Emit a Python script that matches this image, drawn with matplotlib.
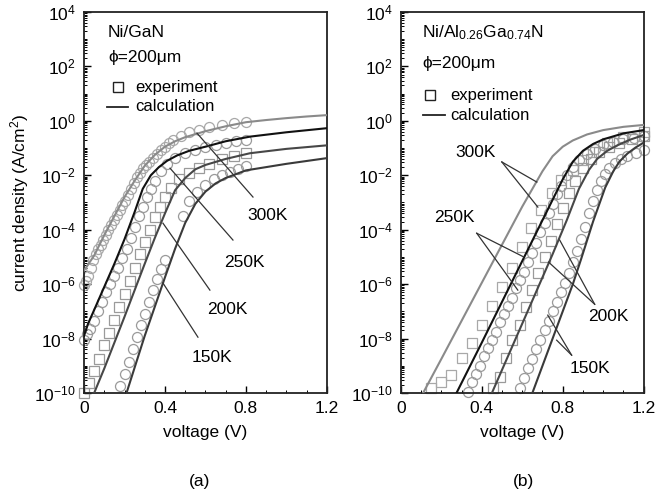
import numpy as np
import matplotlib
matplotlib.use('Agg')
import matplotlib.pyplot as plt
from matplotlib import ticker

plt.rcParams['font.family'] = ['Liberation Sans', 'DejaVu Sans']
plt.rcParams['mathtext.fontset'] = 'custom'
plt.rcParams['mathtext.rm'] = 'Liberation Sans'
plt.rcParams['mathtext.it'] = 'Liberation Sans:italic'

# values are log10 of current density (A/cm^2)
# (a) Ni/GaN - calculation
a_v_300 = [0, 0.05, 0.1, 0.15, 0.2, 0.25, 0.3, 0.35, 0.4, 0.45, 0.5, 0.6, 0.7, 0.8, 0.9, 1.0, 1.1, 1.2]
a_j_300 = [-5.5, -4.95, -4.2, -3.5, -2.8, -2.2, -1.65, -1.25, -0.95, -0.75, -0.6, -0.38, -0.2, -0.05, 0.03, 0.1, 0.16, 0.21]
a_v_250 = [0, 0.02, 0.05, 0.1, 0.15, 0.2, 0.25, 0.29, 0.33, 0.37, 0.41, 0.46, 0.52, 0.6, 0.7, 0.82, 1.0, 1.2]
a_j_250 = [-7.9, -7.45, -6.95, -6.1, -5.25, -4.35, -3.35, -2.5, -2.0, -1.7, -1.47, -1.27, -1.1, -0.95, -0.75, -0.58, -0.42, -0.27]
a_v_200 = [0.05, 0.1, 0.2, 0.3, 0.35, 0.4, 0.45, 0.5, 0.55, 0.6, 0.7, 0.82, 1.0, 1.2]
a_j_200 = [-10, -9.1, -7.2, -5.25, -4.3, -3.4, -2.55, -2.1, -1.78, -1.62, -1.4, -1.19, -1.03, -0.9]
a_v_150 = [0.21, 0.3, 0.4, 0.45, 0.5, 0.55, 0.6, 0.65, 0.7, 0.8, 1.0, 1.2]
a_j_150 = [-10, -7.9, -5.75, -4.7, -3.75, -3.05, -2.6, -2.3, -2.1, -1.82, -1.58, -1.37]

# (a) Ni/GaN - experiment
a_ev_300 = [0, 0.01, 0.02, 0.033, 0.045, 0.058, 0.07, 0.082, 0.094, 0.107, 0.12, 0.135, 0.15, 0.164, 0.178,
            0.19, 0.2, 0.215, 0.23, 0.245, 0.26, 0.275, 0.29, 0.305, 0.32, 0.34, 0.36, 0.38, 0.4, 0.42, 0.44,
            0.48, 0.52, 0.57, 0.62, 0.68, 0.74, 0.8]
a_ej_300 = [-6.05, -5.9, -5.7, -5.4, -5.1, -4.9, -4.7, -4.55, -4.38, -4.2, -4.0, -3.82, -3.65, -3.45, -3.28,
            -3.1, -2.95, -2.72, -2.5, -2.28, -2.07, -1.9, -1.75, -1.62, -1.5, -1.35, -1.2, -1.07, -0.95, -0.82,
            -0.7, -0.55, -0.42, -0.32, -0.24, -0.16, -0.09, -0.04]
a_ev_250 = [0, 0.015, 0.03, 0.05, 0.07, 0.09, 0.11, 0.13, 0.15, 0.17, 0.19, 0.21, 0.23, 0.25, 0.27, 0.29, 0.31,
            0.33, 0.35, 0.38, 0.41, 0.45, 0.5, 0.55, 0.6, 0.65, 0.7, 0.75, 0.8]
a_ej_250 = [-8.05, -7.85, -7.65, -7.35, -7.0, -6.65, -6.3, -6.0, -5.7, -5.4, -5.05, -4.7, -4.3, -3.9, -3.5, -3.15,
            -2.8, -2.5, -2.2, -1.85, -1.58, -1.35, -1.18, -1.06, -0.96, -0.87, -0.8, -0.74, -0.69]
a_ev_200 = [0, 0.025, 0.05, 0.075, 0.1, 0.125, 0.15, 0.175, 0.2, 0.225, 0.25, 0.275, 0.3, 0.325, 0.35, 0.375,
            0.4, 0.43, 0.47, 0.52, 0.57, 0.62, 0.68, 0.74, 0.8]
a_ej_200 = [-10, -9.65, -9.2, -8.75, -8.25, -7.8, -7.3, -6.85, -6.35, -5.9, -5.4, -4.9, -4.45, -4.0, -3.55, -3.15,
            -2.8, -2.45, -2.15, -1.9, -1.72, -1.58, -1.42, -1.3, -1.18]
a_ev_150 = [0.18, 0.2, 0.22, 0.24, 0.26, 0.28, 0.3, 0.32, 0.34, 0.36, 0.38, 0.4, 0.49, 0.52, 0.56, 0.6, 0.64,
            0.68, 0.72, 0.76, 0.8]
a_ej_150 = [-9.75, -9.3, -8.85, -8.4, -7.95, -7.5, -7.1, -6.65, -6.2, -5.8, -5.45, -5.1, -3.5, -2.95, -2.6, -2.35,
            -2.15, -2.0, -1.88, -1.76, -1.66]

# (b) Ni/Al0.26Ga0.74N - calculation
b_v_300 = [0.11, 0.2, 0.3, 0.4, 0.5, 0.55, 0.6, 0.65, 0.7, 0.75, 0.8, 0.85, 0.92, 1.0, 1.1, 1.2]
b_j_300 = [-10, -8.75, -7.35, -5.95, -4.55, -3.85, -3.15, -2.5, -1.85, -1.3, -0.95, -0.72, -0.5, -0.34, -0.22, -0.15]
b_v_250 = [0.275, 0.4, 0.5, 0.6, 0.65, 0.7, 0.75, 0.8, 0.85, 0.9, 0.95, 1.0, 1.1, 1.2]
b_j_250 = [-10, -8.15, -6.65, -5.15, -4.4, -3.65, -2.9, -2.15, -1.5, -1.1, -0.85, -0.68, -0.46, -0.34]
b_v_200 = [0.45, 0.55, 0.65, 0.75, 0.82, 0.88, 0.93, 0.97, 1.02, 1.07, 1.13, 1.2]
b_j_200 = [-10, -8.3, -6.6, -4.9, -3.65, -2.5, -1.8, -1.4, -1.1, -0.9, -0.7, -0.52]
b_v_150 = [0.65, 0.75, 0.85, 0.89, 0.95, 1.01, 1.05, 1.08, 1.12, 1.16, 1.2]
b_j_150 = [-10, -8.0, -6.0, -5.1, -3.7, -2.45, -1.85, -1.5, -1.2, -0.98, -0.8]

# (b) experiment
b_ev_300 = [0.15, 0.2, 0.25, 0.3, 0.35, 0.4, 0.45, 0.5, 0.55, 0.6, 0.645, 0.695, 0.745, 0.79, 0.85, 0.9, 0.95,
            1.02, 1.1, 1.2]
b_ej_300 = [-9.8, -9.6, -9.35, -8.7, -8.15, -7.5, -6.8, -6.1, -5.4, -4.65, -3.95, -3.28, -2.65, -2.18, -1.8,
            -1.44, -1.15, -0.82, -0.6, -0.41]
b_ev_250 = [0.33, 0.35, 0.37, 0.39, 0.41, 0.43, 0.45, 0.47, 0.49, 0.51, 0.53, 0.55, 0.57, 0.59, 0.61, 0.63,
            0.65, 0.67, 0.69, 0.71, 0.73, 0.75, 0.77, 0.79, 0.82, 0.85, 0.88, 0.92, 0.96, 1.0, 1.05, 1.1, 1.15, 1.2]
b_ej_250 = [-9.95, -9.6, -9.3, -9.0, -8.65, -8.35, -8.05, -7.75, -7.4, -7.1, -6.8, -6.5, -6.15, -5.85, -5.55,
            -5.2, -4.85, -4.5, -4.1, -3.75, -3.4, -3.05, -2.7, -2.4, -2.0, -1.7, -1.45, -1.2, -1.02, -0.9, -0.78,
            -0.68, -0.62, -0.56]
b_ev_200 = [0.456, 0.49, 0.52, 0.55, 0.59, 0.62, 0.65, 0.68, 0.71, 0.74, 0.77, 0.8, 0.83, 0.86, 0.9, 0.94, 0.98,
            1.03, 1.08, 1.14, 1.2]
b_ej_200 = [-9.8, -9.4, -8.7, -8.06, -7.5, -6.85, -6.2, -5.6, -5.0, -4.4, -3.8, -3.2, -2.65, -2.2, -1.75, -1.4,
            -1.15, -0.95, -0.8, -0.68, -0.55]
b_ev_150 = [0.59, 0.61, 0.63, 0.65, 0.67, 0.69, 0.71, 0.73, 0.75, 0.77, 0.79, 0.81, 0.83, 0.85, 0.87, 0.89,
            0.91, 0.93, 0.95, 0.97, 0.99, 1.01, 1.03, 1.06, 1.09, 1.12, 1.16, 1.2]
b_ej_150 = [-9.8, -9.45, -9.1, -8.75, -8.4, -8.05, -7.7, -7.35, -7.0, -6.65, -6.3, -5.95, -5.6, -5.2, -4.8,
            -4.35, -3.9, -3.4, -2.95, -2.55, -2.2, -1.95, -1.75, -1.55, -1.4, -1.3, -1.18, -1.07]

temps = ['300K', '250K', '200K', '150K']
line_colors = ['#8a8a8a', '#111111', '#474747', '#3a3a3a']
mark_colors = ['#a8a8a8', '#9a9a9a', '#9a9a9a', '#9a9a9a']

fig = plt.figure(figsize=(6.67, 4.94), dpi=100)
ax_a = fig.add_axes([0.126, 0.2045, 0.364, 0.7712])
ax_b = fig.add_axes([0.601, 0.2045, 0.364, 0.7712])


def pw(vals):
    return 10.0 ** np.asarray(vals)


def marker_plot(ax, v, j, shape, color):
    ax.plot(v, pw(j), linestyle='none', marker=shape, markersize=7.2 if shape == 'o' else 6.8,
            markerfacecolor='none', markeredgecolor=color, markeredgewidth=0.9, clip_on=False, zorder=2)


# panel (a)
for v, j, c in zip([a_v_300, a_v_250, a_v_200, a_v_150], [a_j_300, a_j_250, a_j_200, a_j_150], line_colors):
    ax_a.plot(v, pw(j), color=c, lw=1.5, zorder=3)
marker_plot(ax_a, a_ev_300, a_ej_300, 'o', mark_colors[0])
marker_plot(ax_a, a_ev_250, a_ej_250, 'o', mark_colors[1])
marker_plot(ax_a, a_ev_200, a_ej_200, 's', mark_colors[2])
marker_plot(ax_a, a_ev_150, a_ej_150, 'o', mark_colors[3])

# panel (b)
for v, j, c in zip([b_v_300, b_v_250, b_v_200, b_v_150], [b_j_300, b_j_250, b_j_200, b_j_150], line_colors):
    ax_b.plot(v, pw(j), color=c, lw=1.5, zorder=3)
marker_plot(ax_b, b_ev_300, b_ej_300, 's', mark_colors[0])
marker_plot(ax_b, b_ev_250, b_ej_250, 'o', mark_colors[1])
marker_plot(ax_b, b_ev_200, b_ej_200, 's', mark_colors[2])
marker_plot(ax_b, b_ev_150, b_ej_150, 'o', mark_colors[3])

# temperature labels: (text x, text logy, [(x0, y0, x1, y1), ...])
a_labels = [
    (0.909, -3.46, [(0.558, -0.45, 0.835, -2.8)]),
    (0.79, -5.19, [(0.425, -1.74, 0.736, -4.38)]),
    (0.706, -6.92, [(0.39, -3.76, 0.622, -6.22)]),
    (0.632, -8.68, [(0.39, -5.96, 0.563, -7.95)]),
]
b_labels = [
    (0.37, -1.18, [(0.499, -1.51, 0.672, -2.25), (0.499, -1.51, 0.677, -3.17)]),
    (0.262, -3.54, [(0.375, -4.13, 0.607, -5.0), (0.375, -4.13, 0.578, -6.22)]),
    (1.027, -7.18, [(0.958, -6.74, 0.785, -4.38), (0.958, -6.74, 0.73, -5.19)]),
    (0.933, -9.09, [(0.844, -8.61, 0.726, -7.14), (0.844, -8.61, 0.77, -8.06)]),
]
for ax, labels in [(ax_a, a_labels), (ax_b, b_labels)]:
    for (tx, ty, segs), t in zip(labels, temps):
        ax.text(tx, 10 ** ty, t, fontsize=12.5, ha='center', va='center', zorder=5)
        for x0, y0, x1, y1 in segs:
            ax.plot([x0, x1], [10 ** y0, 10 ** y1], color='#333333', lw=0.9, zorder=4)

# sample texts and legend
ax_a.text(0.119, 10 ** 3.26, 'Ni/GaN', fontsize=12.5, va='center')
ax_a.text(0.119, 10 ** 2.31, 'ϕ=200μm', fontsize=12.5, va='center')
ax_a.plot([0.168], [10 ** 1.24], marker='s', markersize=7, markerfacecolor='none',
          markeredgecolor='#222222', markeredgewidth=1.0, linestyle='none')
ax_a.text(0.252, 10 ** 1.24, 'experiment', fontsize=12, va='center')
ax_a.plot([0.114, 0.217], [10 ** 0.51, 10 ** 0.51], color='#222222', lw=1.3)
ax_a.text(0.252, 10 ** 0.51, 'calculation', fontsize=12, va='center')

ax_b.text(0.104, 10 ** 3.23, r'Ni/Al$_{\mathregular{0.26}}$Ga$_{\mathregular{0.74}}$N', fontsize=12.5, va='center')
ax_b.text(0.104, 10 ** 2.12, 'ϕ=200μm', fontsize=12.5, va='center')
ax_b.plot([0.143], [10 ** 0.95], marker='s', markersize=7, markerfacecolor='none',
          markeredgecolor='#222222', markeredgewidth=1.0, linestyle='none')
ax_b.text(0.242, 10 ** 0.95, 'experiment', fontsize=12, va='center')
ax_b.plot([0.109, 0.217], [10 ** 0.21, 10 ** 0.21], color='#222222', lw=1.3)
ax_b.text(0.242, 10 ** 0.21, 'calculation', fontsize=12, va='center')

major_y = [10.0 ** k for k in range(-10, 5, 2)]
minor_y = [s * 10.0 ** k for k in range(-10, 4) for s in range(1, 10) if not (s == 1 and k % 2 == 0)]
ylabels = [r'$\mathregular{10^{%d}}$' % k for k in range(-10, 5, 2)]

for ax in [ax_a, ax_b]:
    ax.set_yscale('log')
    ax.set_xlim(0, 1.2)
    ax.set_ylim(1e-10, 1e4)
    ax.set_yticks(major_y)
    ax.set_yticks(minor_y, minor=True)
    ax.set_yticklabels(ylabels)
    ax.yaxis.set_minor_formatter(ticker.NullFormatter())
    ax.set_xticks([0, 0.4, 0.8, 1.2])
    ax.set_xticklabels(['0', '0.4', '0.8', '1.2'])
    ax.set_xticks(np.arange(0, 1.21, 0.1), minor=True)
    ax.tick_params(which='both', direction='in', top=False, right=False, labelsize=12.5)
    ax.tick_params(which='major', length=5, width=1.0, pad=6)
    ax.tick_params(which='minor', length=2.5, width=0.7)
    for s in ax.spines.values():
        s.set_linewidth(1.3)
        s.set_color('#222222')
    ax.set_xlabel('voltage (V)', fontsize=12.5, labelpad=6)

ax_a.set_ylabel(r'current density (A/cm$^{\mathregular{2}}$)', fontsize=12.5, labelpad=2)

fig.text(200 / 667, 1 - 481 / 494, '(a)', fontsize=12.5, ha='center', va='center')
fig.text(524 / 667, 1 - 481 / 494, '(b)', fontsize=12.5, ha='center', va='center')

fig.savefig('out.png', dpi=100)
